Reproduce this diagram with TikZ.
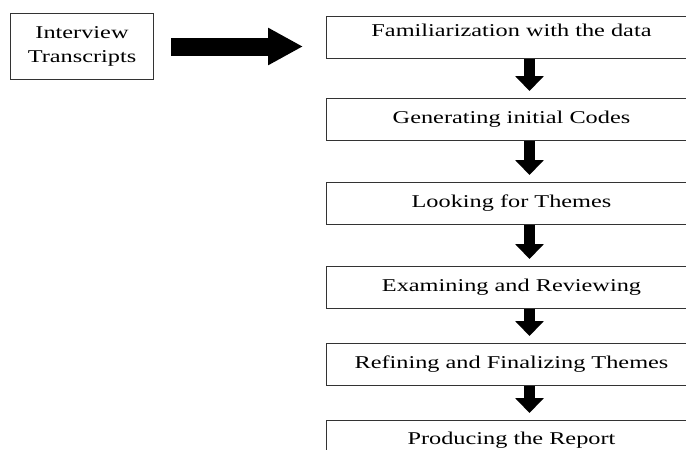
\documentclass[tikz,border=0pt]{standalone}
\usepackage{fontspec}
\setmainfont{Liberation Serif}[FakeStretch=1.35]
\usetikzlibrary{arrows.meta, positioning}

\begin{document}
\begin{tikzpicture}[
  x=1pt, y=-1pt,
  every node/.style={font=\fontsize{18}{24}\selectfont},
  stage/.style={draw=black!80, line width=1pt, minimum width=370pt, minimum height=42pt, inner sep=0pt},
  src/.style={draw=black!80, line width=1pt, minimum width=143pt, minimum height=66pt, align=center, inner sep=0pt},
  fat/.style={line width=18pt, -{Triangle[width=35pt, length=35pt]}},
  down/.style={line width=11pt, -{Triangle[width=28pt, length=15pt]}, shorten >=7pt}
]
\useasboundingbox (0,0) rectangle (686,450);

\node[src, anchor=north west] (IT) at (10,13) {Interview\\Transcripts};

\node[stage, anchor=north west, text height=12pt, text depth=14pt] (F1) at (326,16) {Familiarization with the data};
\node[stage, below=39pt of F1] (F2) {Generating initial Codes};
\node[stage, below=41pt of F2] (F3) {Looking for Themes};
\node[stage, below=41pt of F3] (F4) {Examining and Reviewing};
\node[stage, below=34pt of F4] (F5) {Refining and Finalizing Themes};
\node[stage, below=34pt of F5, text height=12pt, text depth=7pt] (F6) {Producing the Report};

% arrows
\draw[fat, shorten <=17pt, shorten >=23pt] (IT.east) -- (IT.east -| F1.west);
\foreach \a/\b in {F1/F2, F2/F3, F3/F4, F4/F5, F5/F6}
  \draw[down] ([xshift=18pt]\a.south) -- ([xshift=18pt]\b.north);
\end{tikzpicture}
\end{document}
